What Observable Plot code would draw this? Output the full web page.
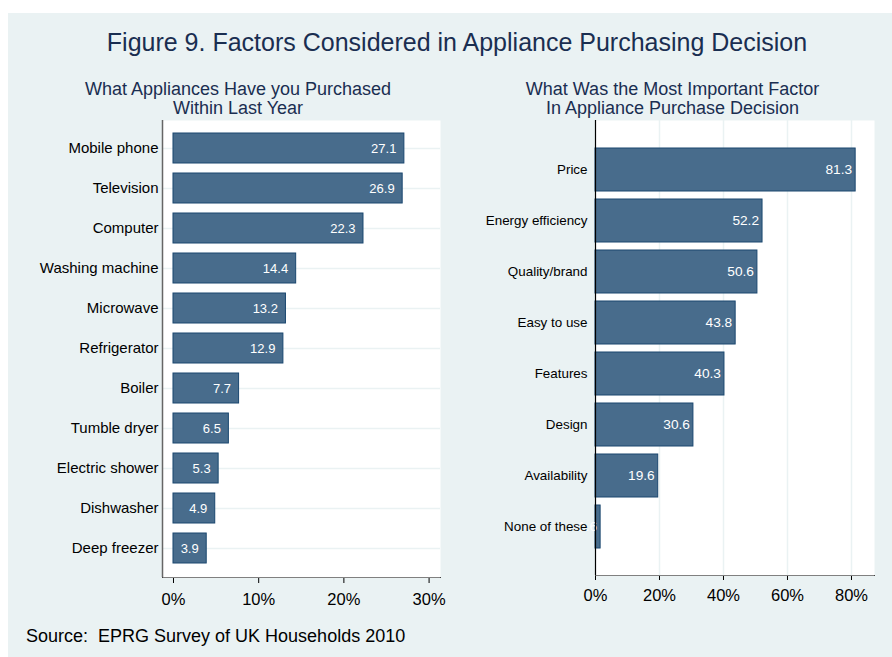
<!DOCTYPE html>
<html><head><meta charset="utf-8">
<script src="https://cdn.jsdelivr.net/npm/d3@7"></script>
<script src="https://cdn.jsdelivr.net/npm/@observablehq/plot@0.6"></script>
<style>
body{margin:0;background:#fff;font-family:"Liberation Sans",Arial,sans-serif;}
#wrap{position:relative;width:892px;height:657px;overflow:hidden;}
#bg{position:absolute;left:8px;top:13px;width:884px;height:644px;background:#EAF2F3;}
.t{position:absolute;white-space:nowrap;text-align:center;color:#1A2E51;}
#title{left:0;width:914px;top:29.8px;font-size:25px;line-height:25px;}
.sub{width:400px;top:80px;font-size:18px;line-height:18.5px;}
#subL{left:38px;}
#subR{left:472.5px;}
#source{position:absolute;left:26px;top:626.8px;font-size:18px;line-height:18px;color:#000;white-space:pre;}
.pl{position:absolute;top:120px;}
#pL{left:0;}
#pR{left:450px;}
</style>
</head><body>
<div id="wrap">
  <div id="bg"></div>
  <div class="t" id="title">Figure 9. Factors Considered in Appliance Purchasing Decision</div>
  <div class="t sub" id="subL">What Appliances Have you Purchased<br>Within Last Year</div>
  <div class="t sub" id="subR">What Was the Most Important Factor<br>In Appliance Purchase Decision</div>
  <div id="source">Source:  EPRG Survey of UK Households 2010</div>
  <div class="pl" id="pL"></div>
  <div class="pl" id="pR"></div>
</div>
<script>
const leftCats = ["Mobile phone","Television","Computer","Washing machine","Microwave","Refrigerator","Boiler","Tumble dryer","Electric shower","Dishwasher","Deep freezer"];
const leftVals = [27.1,26.9,22.3,14.4,13.2,12.9,7.7,6.5,5.3,4.9,3.9];
const leftTicks = [0,10,20,30];

const rightCats = ["Price","Energy efficiency","Quality/brand","Easy to use","Features","Design","Availability","None of these"];
const rightVals = [81.3,52.2,50.6,43.8,40.3,30.6,19.6,1.6];
const rightTicks = [0,20,40,60,80];

const FONT = '"Liberation Sans", Arial, sans-serif';
const BAR_FILL = "#486C8C", BAR_STROKE = "#1A476F", GRID = "#EAF2F3";

const leftData = leftCats.map((c,i)=>({cat:c, value:leftVals[i]}));
const rightData = rightCats.map((c,i)=>({cat:c, value:rightVals[i]}));

const leftDomain = [-1.29, 31.34];
const rightDomain = [0, 87.19];

const left = Plot.plot({
  width: 450, height: 497,
  marginLeft: 162, marginRight: 10, marginTop: 0, marginBottom: 40,
  style: {background: "transparent", fontFamily: FONT, fontSize: "16.5px", color: "black", overflow: "visible"},
  x: {domain: leftDomain, ticks: leftTicks, tickFormat: d => d + "%", tickSize: 6, tickPadding: 10, line: true, label: null},
  y: {domain: leftCats, paddingInner: 0.242, paddingOuter: 0.263, label: null},
  marks: [
    Plot.frame({fill: "white", stroke: null}),
    Plot.ruleY(leftCats, {y: d => d, stroke: GRID, strokeWidth: 1.5}),
    Plot.ruleX([leftDomain[0]], {stroke: "#666", strokeWidth: 1.5}),
    Plot.barX(leftData, {x: "value", y: "cat", fill: BAR_FILL, stroke: BAR_STROKE, strokeWidth: 1}),
    Plot.text(leftData, {x: "value", y: "cat", text: d => d.value.toFixed(1), textAnchor: "end", dx: -8, fill: "white", fontSize: 13}),
    Plot.axisY({tickSize: 0, tickPadding: 4, fontSize: 15, label: null})
  ]
});
document.getElementById("pL").appendChild(left);

const right = Plot.plot({
  width: 442, height: 495,
  marginLeft: 145, marginRight: 18, marginTop: 0, marginBottom: 40,
  style: {background: "transparent", fontFamily: FONT, fontSize: "16.5px", color: "black", overflow: "visible"},
  x: {domain: rightDomain, ticks: rightTicks, tickFormat: d => d + "%", tickSize: 5, tickPadding: 9, line: true, label: null},
  y: {domain: rightCats, paddingInner: 0.165, paddingOuter: 0.5, label: null},
  marks: [
    Plot.frame({fill: "white", stroke: null}),
    Plot.ruleX(rightTicks.slice(1), {stroke: GRID, strokeWidth: 1.5}),
    Plot.barX(rightData, {x: "value", y: "cat", fill: BAR_FILL, stroke: BAR_STROKE, strokeWidth: 1}),
    Plot.text(rightData, {x: "value", y: "cat", text: d => d.value.toFixed(1), textAnchor: "end", dx: -3.5, fill: "white", fontSize: 13.7}),
    Plot.ruleX([rightDomain[0]], {stroke: "black", strokeWidth: 1.2}),
    Plot.axisY({tickSize: 0, tickPadding: 8, fontSize: 13.4, label: null})
  ]
});
document.getElementById("pR").appendChild(right);
</script>
</body></html>
